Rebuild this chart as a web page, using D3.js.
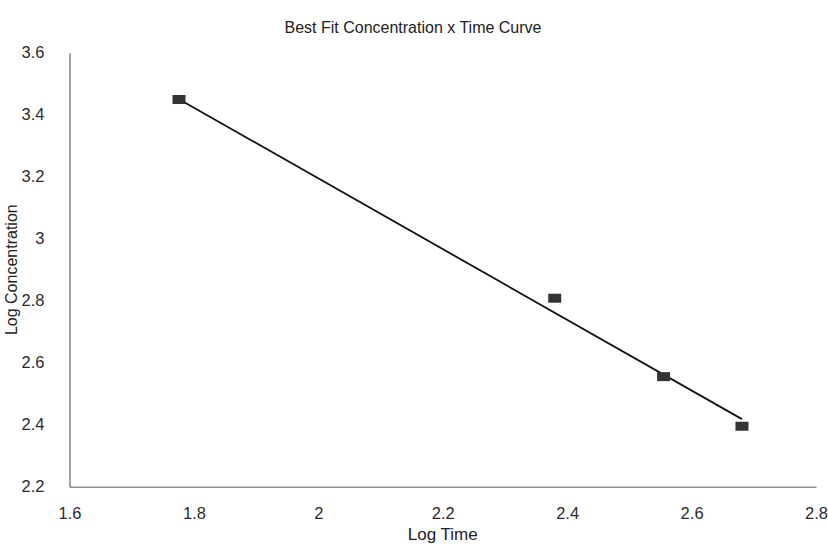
<!DOCTYPE html>
<html>
<head>
<meta charset="utf-8">
<script src="https://cdn.jsdelivr.net/npm/d3@7"></script>
<style>
  body { margin: 0; background: #fff; }
  svg { display: block; font-family: "Liberation Sans", Arial, sans-serif; }
</style>
</head>
<body>
<svg id="chart" width="828" height="544"></svg>
<script>
// observed points (log time vs log concentration)
const logTime = [1.776, 2.380, 2.555, 2.681];
const logConc = [3.449, 2.808, 2.555, 2.395];

// best fit line, read at its two ends
const fitTime = [1.776, 2.681];
const fitConc = [3.450, 2.418];

const xTicks = [1.6, 1.8, 2, 2.2, 2.4, 2.6, 2.8];
const yTicks = [2.2, 2.4, 2.6, 2.8, 3, 3.2, 3.4, 3.6];

const svg = d3.select("#chart");
const margin = { left: 69.5, right: 12, top: 52.7, bottom: 57.3 };
const width = 828, height = 544;

const x = d3.scaleLinear().domain([1.6, 2.8]).range([margin.left, width - margin.right]);
const y = d3.scaleLinear().domain([2.2, 3.6]).range([height - margin.bottom, margin.top]);

// axes: plain grey lines, no tick marks
const xAxis = svg.append("g")
  .attr("transform", `translate(0,${y(2.2)})`)
  .call(d3.axisBottom(x).tickValues(xTicks).tickSize(0).tickPadding(21).tickFormat(d3.format("")));
const yAxis = svg.append("g")
  .attr("transform", `translate(${x(1.6)},0)`)
  .call(d3.axisLeft(y).tickValues(yTicks).tickSize(0).tickPadding(25).tickFormat(d3.format("")));

[xAxis, yAxis].forEach(g => {
  g.select(".domain").attr("stroke", "#8c8c8c").attr("stroke-width", 1.6);
  g.selectAll("text").attr("fill", "#2b2b2b").attr("font-size", 16.5)
    .attr("font-family", "'Liberation Sans', Arial, sans-serif");
});

// fit line
const pts = fitTime.map((t, i) => [t, fitConc[i]]);
svg.append("path")
  .datum(pts)
  .attr("fill", "none")
  .attr("stroke", "#111")
  .attr("stroke-width", 1.8)
  .attr("d", d3.line().x(d => x(d[0])).y(d => y(d[1])));

// markers
const obs = logTime.map((t, i) => ({ t, c: logConc[i] }));
svg.append("g").selectAll("rect")
  .data(obs)
  .enter()
  .append("rect")
  .attr("x", d => x(d.t) - 6.5)
  .attr("y", d => y(d.c) - 4.5)
  .attr("width", 13)
  .attr("height", 9)
  .attr("fill", "#333");

// titles
svg.append("text")
  .attr("x", 413).attr("y", 33)
  .attr("text-anchor", "middle")
  .attr("font-size", 16)
  .attr("fill", "#222")
  .text("Best Fit Concentration x Time Curve");

svg.append("text")
  .attr("x", (x.range()[0] + x.range()[1]) / 2).attr("y", 540)
  .attr("text-anchor", "middle")
  .attr("font-size", 17)
  .attr("fill", "#222")
  .text("Log Time");

svg.append("text")
  .attr("transform", `translate(16.5,${(y.range()[0] + y.range()[1]) / 2}) rotate(-90)`)
  .attr("text-anchor", "middle")
  .attr("font-size", 16)
  .attr("fill", "#222")
  .text("Log Concentration");
</script>
</body>
</html>
